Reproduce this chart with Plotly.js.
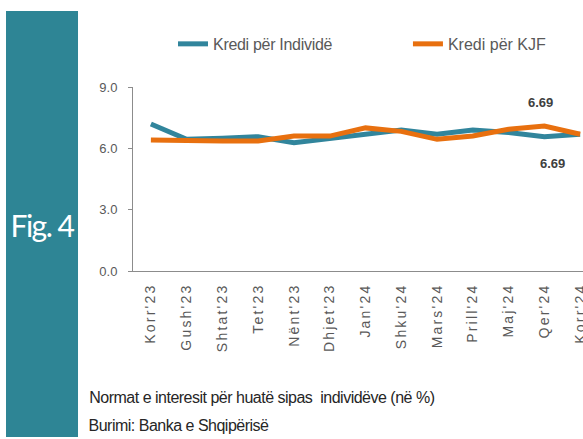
<!DOCTYPE html>
<html>
<head>
<meta charset="utf-8">
<script src="https://cdn.plot.ly/plotly-3.0.1.min.js"></script>
<style>
html,body{margin:0;padding:0;background:#fff;overflow:hidden}
.xtick text{letter-spacing:2.2px}
.legendtext{letter-spacing:-0.3px}
.annotation[data-index="0"] .annotation-text{letter-spacing:-1.5px}
.annotation[data-index="3"] .annotation-text,
.annotation[data-index="4"] .annotation-text{letter-spacing:-0.5px}
</style>
</head>
<body>
<div id="chart" style="width:583px;height:439px"></div>
<script>
const months = ["Korr'23","Gush'23","Shtat'23","Tet'23","Nënt'23","Dhjet'23","Jan'24","Shku'24","Mars'24","Prill'24","Maj'24","Qer'24","Korr'24"];
const individe = [7.19, 6.44, 6.49, 6.57, 6.28, 6.49, 6.70, 6.90, 6.69, 6.90, 6.77, 6.57, 6.69];
const kjf = [6.41, 6.36, 6.36, 6.36, 6.60, 6.60, 7.00, 6.83, 6.44, 6.60, 6.93, 7.09, 6.69];
const yTicks = [0, 3, 6, 9];
const yTickText = ["0.0", "3.0", "6.0", "9.0"];

const sans = "Liberation Sans, Arial, sans-serif";
const teal = "#31859C";
const orange = "#E8700F";

const data = [
  {x: months, y: individe, type: "scatter", mode: "lines", name: "Kredi për Individë",
   line: {color: teal, width: 5}, legend: "legend"},
  {x: months, y: kjf, type: "scatter", mode: "lines", name: "Kredi për KJF",
   line: {color: orange, width: 5}, legend: "legend2"}
];

const legFont = {family: sans, size: 16, color: "#595959"};

const layout = {
  width: 583, height: 439,
  margin: {l: 133, r: 0, t: 87, b: 168},
  paper_bgcolor: "#fff", plot_bgcolor: "#fff",
  showlegend: true,
  legend: {orientation: "h", x: 0.0889, y: 1.234, xanchor: "left", yanchor: "middle", font: legFont},
  legend2: {orientation: "h", x: 0.611, y: 1.234, xanchor: "left", yanchor: "middle", font: legFont},
  xaxis: {type: "category", range: [-0.5, 12.08], showline: true, linecolor: "#8c8c8c", linewidth: 1,
          showgrid: false, zeroline: false, ticks: "", tickangle: -90, ticklabelstandoff: 6,
          tickfont: {family: sans, size: 14, color: "#595959"}},
  yaxis: {range: [0, 9], tickvals: yTicks, ticktext: yTickText, showline: true, linecolor: "#8c8c8c",
          linewidth: 1, showgrid: false, zeroline: false, ticks: "outside", ticklen: 4, tickcolor: "#8c8c8c",
          ticklabelstandoff: 8,
          tickfont: {family: sans, size: 13, color: "#595959"}},
  shapes: [
    {type: "rect", xref: "paper", yref: "paper", x0: -0.2822, x1: -0.1222, y0: -0.902, y1: 1.413,
     fillcolor: "#2E8595", line: {width: 0}, layer: "below"}
  ],
  annotations: [
    {xref: "paper", yref: "paper", x: -0.2022, y: 0.25, xanchor: "center", yanchor: "middle",
     text: "Fig. 4", showarrow: false,
     font: {family: "Lato, Open Sans, sans-serif", size: 30, color: "#fff"}},
    {x: 10.88, y: 8.22, text: "<b>6.69</b>", showarrow: false, xanchor: "center", yanchor: "middle",
     font: {family: sans, size: 13, color: "#404040"}},
    {x: 11.24, y: 5.28, text: "<b>6.69</b>", showarrow: false, xanchor: "center", yanchor: "middle",
     font: {family: sans, size: 13, color: "#404040"}},
    {xref: "paper", yref: "paper", x: 0.2856, y: -0.685, xanchor: "center", yanchor: "middle",
     text: "Normat e interesit për huatë sipas  individëve (në %)",
     showarrow: false, font: {family: sans, size: 16, color: "#262626"}},
    {xref: "paper", yref: "paper", x: 0.1011, y: -0.842, xanchor: "center", yanchor: "middle",
     text: "Burimi: Banka e Shqipërisë",
     showarrow: false, font: {family: sans, size: 16, color: "#262626"}}
  ]
};

Plotly.newPlot("chart", data, layout, {displayModeBar: false, staticPlot: true});
</script>
</body>
</html>
